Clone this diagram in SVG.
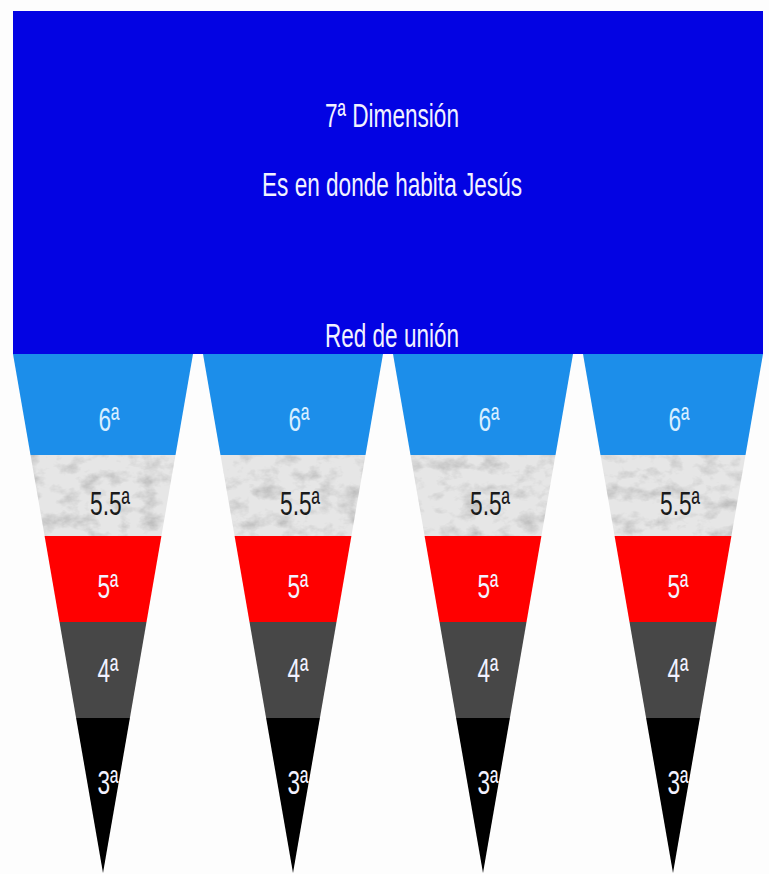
<svg xmlns="http://www.w3.org/2000/svg" width="769" height="874" viewBox="0 0 769 874">
  <defs>
    <style>
      .t { font-family: "Liberation Sans", Arial, sans-serif; font-size: 33px; text-anchor: middle; }
      .w { fill: #f2f2ff; }
      .lb { fill: #d8eeff; }
      .k { fill: #1a1a1a; }
      .b6 { fill: #1C8EEA; }
      .b55 { fill: #e6e6e6; }
      .b5 { fill: #FF0000; }
      .b4 { fill: #474747; }
      .b3 { fill: #000000; }
    </style>
    <filter id="marble" filterUnits="userSpaceOnUse" x="0" y="440" width="769" height="110">
      <feTurbulence type="fractalNoise" baseFrequency="0.05 0.07" numOctaves="4" seed="11" result="n"/>
      <feColorMatrix in="n" type="matrix" values="0 0 0 0 0.5  0 0 0 0 0.5  0 0 0 0 0.5  2.2 0 0 0 -1.0" result="g"/>
      <feComposite in="g" in2="SourceGraphic" operator="atop"/>
    </filter>
  </defs>

  <rect width="769" height="874" fill="#fdfdfd"/>

  <g id="dimension7">
    <rect x="13" y="11" width="750" height="343" fill="#0303E3"/>
    <text class="t w" x="392" y="127" textLength="134" lengthAdjust="spacingAndGlyphs">7ª Dimensión</text>
    <text class="t w" x="392" y="196" textLength="260" lengthAdjust="spacingAndGlyphs">Es en donde habita Jesús</text>
    <text class="t w" x="392" y="347" textLength="134" lengthAdjust="spacingAndGlyphs">Red de unión</text>
  </g>

  <g id="cone1">
    <polygon class="b6" points="13,354 193,354 175.5,455 30.5,455"/>
    <polygon class="b55" filter="url(#marble)" points="30.5,455 175.5,455 161.4,536 44.6,536"/>
    <polygon class="b5" points="44.6,536 161.4,536 146.5,622 59.5,622"/>
    <polygon class="b4" points="59.5,622 146.5,622 129.9,718 76.1,718"/>
    <polygon class="b3" points="76.1,718 129.9,718 103,873"/>
    <text class="t lb" x="109" y="431" textLength="21" lengthAdjust="spacingAndGlyphs">6ª</text>
    <text class="t k" x="110" y="515" textLength="40" lengthAdjust="spacingAndGlyphs">5.5ª</text>
    <text class="t w" x="108" y="598" textLength="21" lengthAdjust="spacingAndGlyphs">5ª</text>
    <text class="t w" x="108" y="682" textLength="21" lengthAdjust="spacingAndGlyphs">4ª</text>
    <text class="t w" x="108" y="794" textLength="21" lengthAdjust="spacingAndGlyphs">3ª</text>
  </g>

  <g id="cone2">
    <polygon class="b6" points="203,354 383,354 365.5,455 220.5,455"/>
    <polygon class="b55" filter="url(#marble)" points="220.5,455 365.5,455 351.4,536 234.6,536"/>
    <polygon class="b5" points="234.6,536 351.4,536 336.5,622 249.5,622"/>
    <polygon class="b4" points="249.5,622 336.5,622 319.9,718 266.1,718"/>
    <polygon class="b3" points="266.1,718 319.9,718 293,873"/>
    <text class="t lb" x="299" y="431" textLength="21" lengthAdjust="spacingAndGlyphs">6ª</text>
    <text class="t k" x="300" y="515" textLength="40" lengthAdjust="spacingAndGlyphs">5.5ª</text>
    <text class="t w" x="298" y="598" textLength="21" lengthAdjust="spacingAndGlyphs">5ª</text>
    <text class="t w" x="298" y="682" textLength="21" lengthAdjust="spacingAndGlyphs">4ª</text>
    <text class="t w" x="298" y="794" textLength="21" lengthAdjust="spacingAndGlyphs">3ª</text>
  </g>

  <g id="cone3">
    <polygon class="b6" points="393,354 573,354 555.5,455 410.5,455"/>
    <polygon class="b55" filter="url(#marble)" points="410.5,455 555.5,455 541.4,536 424.6,536"/>
    <polygon class="b5" points="424.6,536 541.4,536 526.5,622 439.5,622"/>
    <polygon class="b4" points="439.5,622 526.5,622 509.9,718 456.1,718"/>
    <polygon class="b3" points="456.1,718 509.9,718 483,873"/>
    <text class="t lb" x="489" y="431" textLength="21" lengthAdjust="spacingAndGlyphs">6ª</text>
    <text class="t k" x="490" y="515" textLength="40" lengthAdjust="spacingAndGlyphs">5.5ª</text>
    <text class="t w" x="488" y="598" textLength="21" lengthAdjust="spacingAndGlyphs">5ª</text>
    <text class="t w" x="488" y="682" textLength="21" lengthAdjust="spacingAndGlyphs">4ª</text>
    <text class="t w" x="488" y="794" textLength="21" lengthAdjust="spacingAndGlyphs">3ª</text>
  </g>

  <g id="cone4">
    <polygon class="b6" points="583,354 763,354 745.5,455 600.5,455"/>
    <polygon class="b55" filter="url(#marble)" points="600.5,455 745.5,455 731.4,536 614.6,536"/>
    <polygon class="b5" points="614.6,536 731.4,536 716.5,622 629.5,622"/>
    <polygon class="b4" points="629.5,622 716.5,622 699.9,718 646.1,718"/>
    <polygon class="b3" points="646.1,718 699.9,718 673,873"/>
    <text class="t lb" x="679" y="431" textLength="21" lengthAdjust="spacingAndGlyphs">6ª</text>
    <text class="t k" x="680" y="515" textLength="40" lengthAdjust="spacingAndGlyphs">5.5ª</text>
    <text class="t w" x="678" y="598" textLength="21" lengthAdjust="spacingAndGlyphs">5ª</text>
    <text class="t w" x="678" y="682" textLength="21" lengthAdjust="spacingAndGlyphs">4ª</text>
    <text class="t w" x="678" y="794" textLength="21" lengthAdjust="spacingAndGlyphs">3ª</text>
  </g>
</svg>
